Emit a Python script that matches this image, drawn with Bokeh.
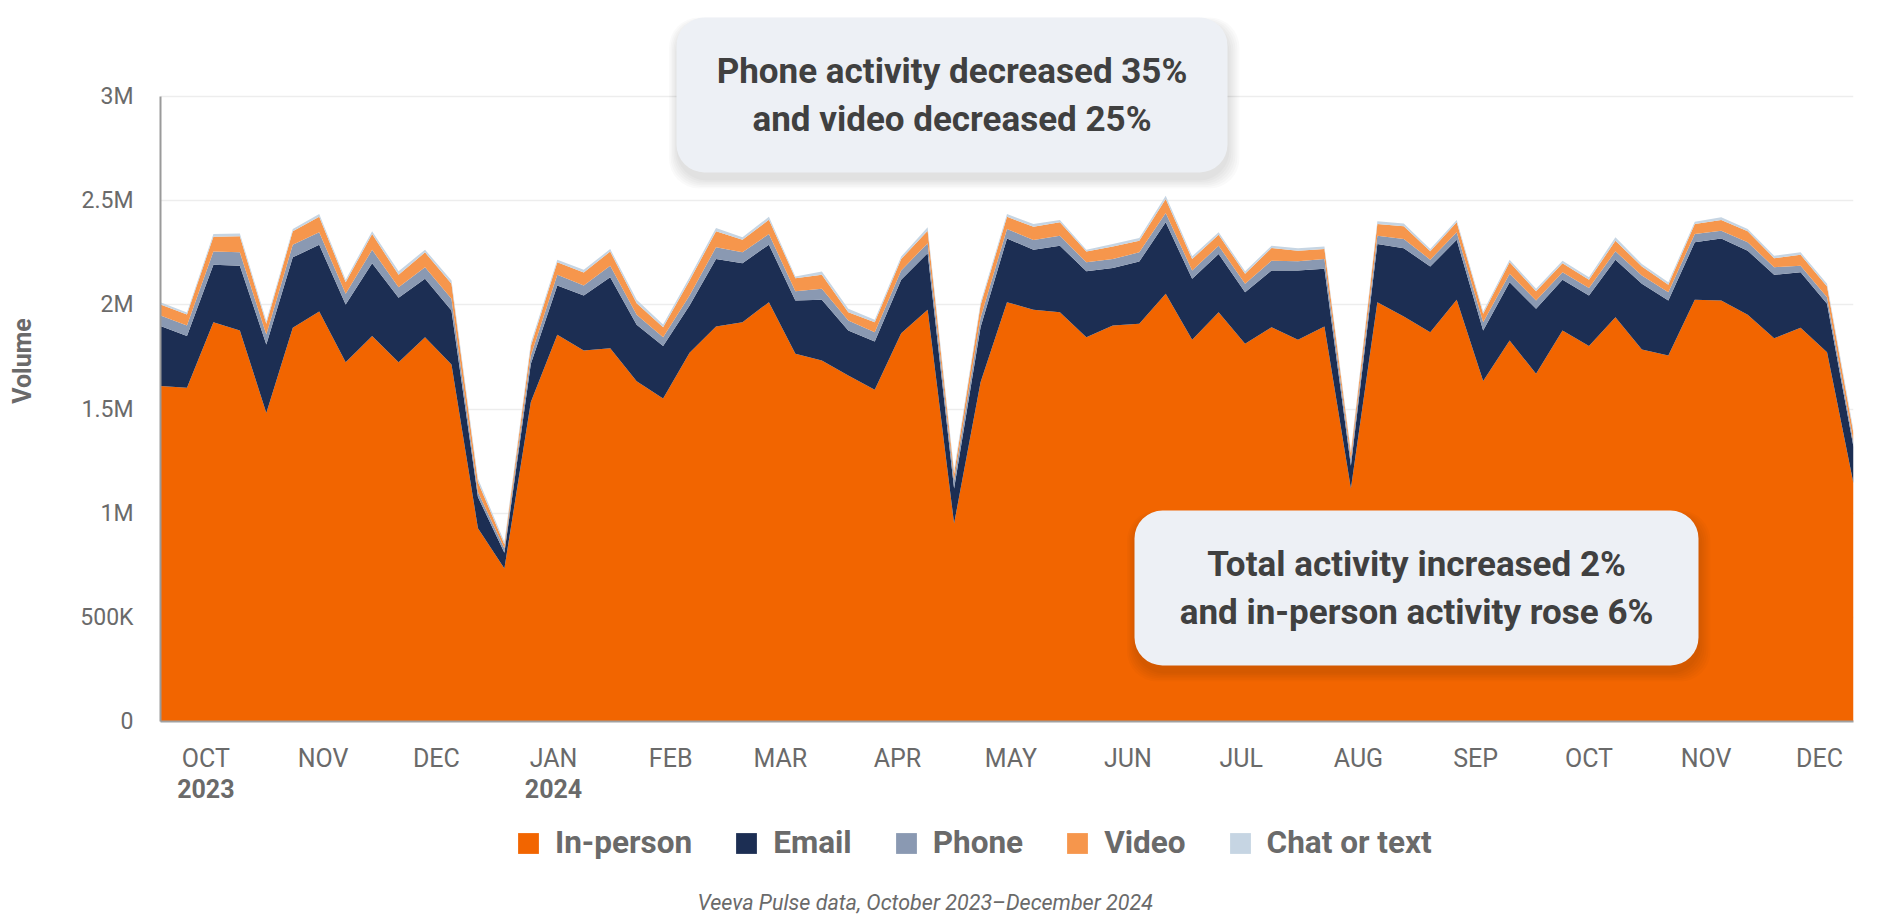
import pandas as pd
from bokeh.plotting import figure
from bokeh.layouts import column
from bokeh.models import (ColumnDataSource, Range1d, FixedTicker, LinearAxis, Legend,
                          LegendItem, BoxAnnotation, Label)
from bokeh.embed import file_html
from bokeh.resources import INLINE

# ---------------- data (weekly volumes, thousands) ----------------
first_week = "2023-10-03"
in_person = [1610, 1602, 1917, 1877, 1481, 1890, 1968, 1725, 1851, 1725, 1845, 1714, 928, 735,
             1534, 1856, 1781, 1792, 1633, 1550, 1770, 1896, 1917, 2013, 1765, 1733, 1661, 1593,
             1864, 1976, 950, 1629, 2013, 1976, 1965, 1845, 1901, 1909, 2053, 1832, 1965, 1813,
             1893, 1832, 1896, 1118, 2013, 1944, 1869, 2024, 1634, 1829, 1669, 1877, 1802, 1941,
             1786, 1757, 2024, 2021, 1952, 1840, 1890, 1773, 1142]
email = [288, 248, 275, 311, 329, 338, 320, 277, 349, 309, 280, 259, 150, 75,
         183, 237, 264, 341, 271, 252, 227, 324, 283, 276, 256, 291, 216, 231,
         256, 272, 168, 264, 306, 288, 319, 316, 276, 299, 343, 293, 279, 248,
         272, 333, 277, 110, 279, 328, 315, 288, 243, 280, 312, 244, 243, 276,
         315, 264, 276, 298, 308, 304, 267, 232, 176]
phone = [51, 51, 64, 64, 48, 60, 60, 51, 64, 51, 56, 56, 24, 20,
         40, 51, 48, 55, 48, 43, 48, 56, 52, 51, 44, 53, 48, 45,
         45, 48, 40, 45, 45, 47, 48, 43, 43, 44, 45, 40, 40, 40,
         47, 44, 47, 30, 40, 44, 33, 36, 40, 40, 40, 36, 36, 40,
         40, 40, 40, 37, 40, 37, 31, 32, 24]
video = [53, 53, 71, 77, 51, 65, 75, 56, 76, 59, 71, 72, 48, 20,
         45, 60, 62, 68, 56, 48, 72, 77, 60, 69, 63, 68, 40, 48,
         55, 60, 32, 60, 59, 64, 64, 52, 60, 56, 67, 55, 53, 48,
         61, 51, 48, 30, 56, 61, 40, 48, 40, 55, 44, 43, 39, 51,
         43, 36, 48, 51, 53, 43, 53, 51, 40]
chat = [11, 9, 13, 14, 13, 11, 13, 12, 13, 17, 13, 16, 16, 12,
        16, 12, 13, 12, 16, 13, 16, 16, 12, 14, 8, 15, 16, 11,
        12, 16, 16, 13, 13, 13, 11, 9, 12, 13, 16, 13, 11, 12,
        11, 12, 12, 12, 13, 14, 11, 11, 11, 13, 12, 12, 13, 16,
        12, 12, 11, 13, 11, 12, 11, 13, 16]

series_names = ["In-person", "Email", "Phone", "Video", "Chat or text"]
series_colors = ["#F26500", "#1C2E53", "#8A99B2", "#F6964C", "#C6D5E3"]

month_labels = ["OCT", "NOV", "DEC", "JAN", "FEB", "MAR", "APR", "MAY", "JUN",
                "JUL", "AUG", "SEP", "OCT", "NOV", "DEC"]
month_dates = ["2023-10-15", "2023-11-15", "2023-12-15", "2024-01-15", "2024-02-15",
               "2024-03-15", "2024-04-15", "2024-05-15", "2024-06-15", "2024-07-15",
               "2024-08-15", "2024-09-15", "2024-10-15", "2024-11-15", "2024-12-15"]
year_labels = ["2023", "2024"]
year_dates = ["2023-10-15", "2024-01-15"]

y_ticks = [0, 500, 1000, 1500, 2000, 2500, 3000]
y_tick_labels = ["0", "500K", "1M", "1.5M", "2M", "2.5M", "3M"]

note_top = ["Phone activity decreased 35%", "and video decreased 25%"]
note_bottom = ["Total activity increased 2%", "and in-person activity rose 6%"]
source_note = "Veeva Pulse data, October 2023\u2013December 2024"

# ---------------- build ----------------
n = len(in_person)
weeks = pd.date_range(first_week, periods=n, freq="7D")
start = weeks[0]


def week_pos(d):
    return round((pd.Timestamp(d) - start).days / 7.0, 3)


keys = ["in_person", "email", "phone", "video", "chat"]
source = ColumnDataSource(dict(x=list(range(n)), in_person=in_person, email=email,
                               phone=phone, video=video, chat=chat))

W = 1880
H1, H2 = 812, 107
B_LEFT, B_RIGHT, B_TOP, B_BOTTOM = 160, 27, 0, 91
Y_END = 3461
frame_w = W - B_LEFT - B_RIGHT
frame_h = H1 - B_TOP - B_BOTTOM
ux = (n - 1) / frame_w       # index units per pixel
uy = Y_END / frame_h         # value units per pixel

p = figure(width=W, height=H1, output_backend="svg", toolbar_location=None,
           x_range=Range1d(0, n - 1), y_range=Range1d(0, Y_END),
           min_border_left=B_LEFT, min_border_right=B_RIGHT,
           min_border_top=B_TOP, min_border_bottom=B_BOTTOM)
p.outline_line_color = None
p.background_fill_color = "white"
p.border_fill_color = "white"

rs = p.varea_stack(stackers=keys, x="x", color=series_colors, source=source)

# axes
GRAY = "#6a6a6a"
yax = p.yaxis[0]
yax.ticker = FixedTicker(ticks=y_ticks)
yax.major_label_overrides = dict(zip(y_ticks, y_tick_labels))
yax.bounds = (y_ticks[0], y_ticks[-1])
yax.axis_line_color = "#9a9a9a"
yax.axis_line_width = 2
yax.major_tick_line_color = None
yax.minor_tick_line_color = None
yax.major_tick_out = 0
yax.major_label_standoff = 27
yax.major_label_text_font = "Roboto"
yax.major_label_text_font_size = "23px"
yax.major_label_text_color = GRAY
yax.axis_label = "Volume"
yax.axis_label_text_font = "Roboto"
yax.axis_label_text_font_style = "bold"
yax.axis_label_text_font_size = "25px"
yax.axis_label_text_color = GRAY
yax.axis_label_standoff = 40

p.ygrid.ticker = FixedTicker(ticks=y_ticks)
p.ygrid.bounds = (y_ticks[0], y_ticks[-1])
p.ygrid.grid_line_color = "#ededed"
p.ygrid.grid_line_width = 1.5
p.xgrid.grid_line_color = None

month_pos = [week_pos(d) for d in month_dates]
xax = p.xaxis[0]
xax.ticker = FixedTicker(ticks=month_pos)
xax.major_label_overrides = dict(zip(month_pos, month_labels))
xax.axis_line_color = "#a0a0a0"
xax.axis_line_width = 2
xax.major_tick_line_color = None
xax.minor_tick_line_color = None
xax.major_tick_out = 0
xax.major_label_standoff = 22
xax.major_label_text_font = "Roboto"
xax.major_label_text_font_size = "25px"
xax.major_label_text_color = GRAY

year_pos = [week_pos(d) for d in year_dates]
yr_axis = LinearAxis(ticker=FixedTicker(ticks=year_pos),
                     major_label_overrides=dict(zip(year_pos, year_labels)),
                     axis_line_color=None, major_tick_line_color=None,
                     minor_tick_line_color=None, major_tick_out=0,
                     major_label_standoff=3,
                     major_label_text_font="Roboto", major_label_text_font_style="bold",
                     major_label_text_font_size="25px", major_label_text_color=GRAY)
p.add_layout(yr_axis, "below")


# ---------------- callout boxes ----------------
def callout(cx_px, cy_px, w_px, h_px, lines):
    # cx_px / cy_px measured from frame left / frame top
    left = (cx_px - w_px / 2) * ux
    right = (cx_px + w_px / 2) * ux
    top = (frame_h - (cy_px - h_px / 2)) * uy
    bottom = (frame_h - (cy_px + h_px / 2)) * uy
    for k in range(1, 7):
        p.add_layout(BoxAnnotation(left=left - (k - 1) * ux * 1.5, right=right + k * ux * 2,
                                   top=top - (6 - k) * uy, bottom=bottom - (k + 4) * uy * 1.6,
                                   fill_color="black", fill_alpha=0.018, line_color=None,
                                   border_radius=30))
    p.add_layout(BoxAnnotation(left=left, right=right, top=top, bottom=bottom,
                               fill_color="#EDF0F5", fill_alpha=1.0, line_color=None,
                               border_radius=28))
    for j, t in enumerate(lines):
        p.add_layout(Label(x=cx_px * ux, y=(frame_h - (cy_px - 24 + 48 * j)) * uy, text=t,
                           text_align="center", text_baseline="middle",
                           text_font="Roboto", text_font_style="bold",
                           text_font_size="35px", text_color="#404040"))


callout(791.5, 94.5, 551, 155, note_top)
callout(1256, 587.5, 564, 155, note_bottom)

# ---------------- legend + source strip (frame aligned with the chart's frame) ----------------
p2 = figure(width=W, height=H2, output_backend="svg", toolbar_location=None,
            x_range=Range1d(B_LEFT, W - B_RIGHT), y_range=Range1d(0, H2),
            x_axis_type=None, y_axis_type=None,
            min_border_left=B_LEFT, min_border_right=B_RIGHT,
            min_border_top=0, min_border_bottom=0)
p2.outline_line_color = None
p2.background_fill_color = "white"
p2.border_fill_color = "white"

# same stacked series (they fall outside this strip's ranges, only their legend swatches show)
swatches = p2.varea_stack(stackers=keys, x="x", color=series_colors, source=source)
legend = Legend(items=[LegendItem(label=nm, renderers=[r]) for nm, r in zip(series_names, swatches)],
                orientation="horizontal", location=(515 - B_LEFT, 58),
                glyph_width=26, glyph_height=26, label_standoff=14, spacing=41,
                label_height=26, padding=0, margin=0, border_line_color=None,
                background_fill_alpha=0,
                label_text_font="Roboto", label_text_font_style="bold",
                label_text_font_size="31.5px", label_text_color=GRAY)
p2.add_layout(legend, "center")

p2.add_layout(Label(x=697, y=17, text=source_note,
                    text_align="left", text_baseline="middle",
                    text_font="Roboto", text_font_style="italic",
                    text_font_size="21.5px", text_color=GRAY))

layout = column(p, p2, spacing=0)
open("out.html", "w").write(file_html(layout, INLINE))
